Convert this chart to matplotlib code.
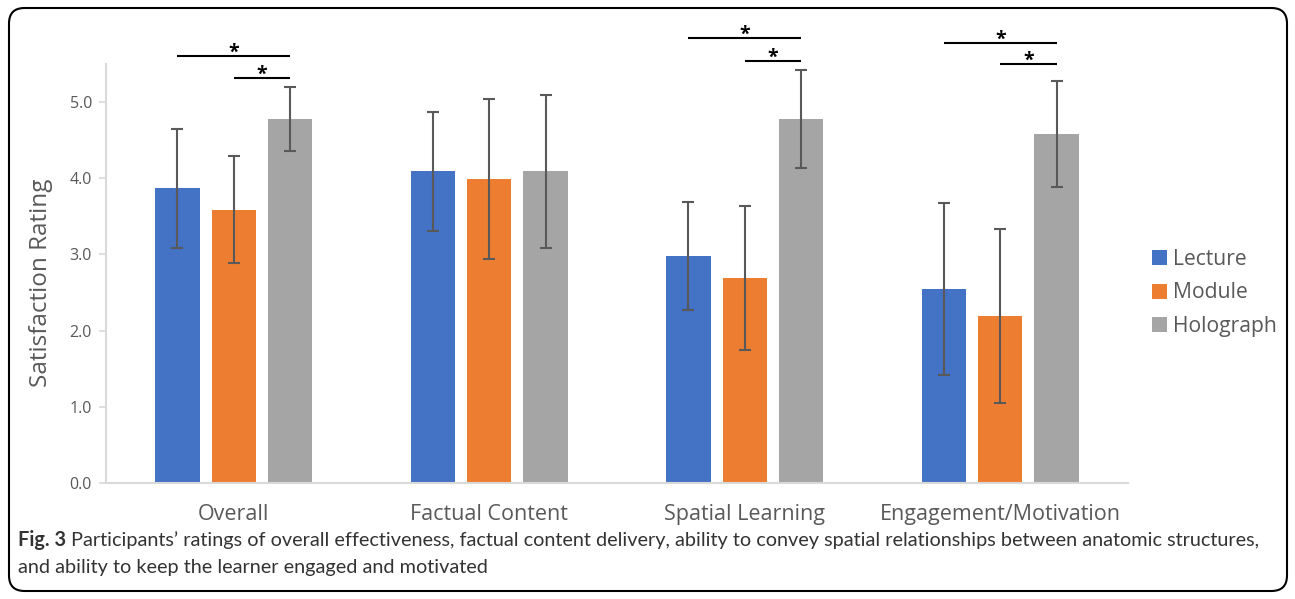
import matplotlib
matplotlib.use("Agg")
import matplotlib.pyplot as plt
import numpy as np
from matplotlib.patches import FancyBboxPatch, Patch

categories = ["Overall", "Factual Content", "Spatial Learning", "Engagement/Motivation"]
series = ["Lecture", "Module", "Holograph"]
lecture = [3.87, 4.09, 2.98, 2.55]
module = [3.59, 3.99, 2.69, 2.19]
holograph = [4.78, 4.09, 4.78, 4.58]
lecture_sd = [0.78, 0.78, 0.71, 1.13]
module_sd = [0.70, 1.05, 0.95, 1.14]
holograph_sd = [0.42, 1.00, 0.64, 0.70]
yticks = [0.0, 1.0, 2.0, 3.0, 4.0, 5.0]

# significance brackets: (category index, from series, to series, height)
sig_pairs = [
    (0, 0, 2, 5.60), (0, 1, 2, 5.31),
    (2, 0, 2, 5.84), (2, 1, 2, 5.54),
    (3, 0, 2, 5.77), (3, 1, 2, 5.50),
]

colors = ["#4472C4", "#ED7D31", "#A5A5A5"]
text_gray = "#595959"
font = "Open Sans"
W, H = 1295, 599

fig = plt.figure(figsize=(W / 100, H / 100), dpi=100)
ax = fig.add_axes([106 / W, 116 / H, (1128 - 106) / W, 419 / H])

x = np.arange(len(categories))
width = 0.174
step = 0.221
values = [lecture, module, holograph]
errs = [lecture_sd, module_sd, holograph_sd]
for i, (name, v, e, c) in enumerate(zip(series, values, errs, colors)):
    pos = x + (i - 1) * step
    ax.bar(pos, v, width, color=c, label=name, zorder=2)
    ax.errorbar(pos, v, yerr=e, fmt="none", ecolor="#595959", elinewidth=1.5,
                capsize=4.5, capthick=1.5, zorder=3)

for ci, a, b, h in sig_pairs:
    x0 = ci + (a - 1) * step
    x1 = ci + (b - 1) * step
    ax.plot([x0, x1], [h, h], color="black", lw=1.5, clip_on=False,
            solid_capstyle="butt")
    ax.text((x0 + x1) / 2, h - 0.02, "*", ha="center", va="baseline",
            fontsize=14, fontweight="bold", color="black", family=font,
            clip_on=False)

ax.set_xlim(-0.5, 3.5)
ax.set_ylim(0, 5.5)
ax.set_yticks(yticks)
ax.set_yticklabels([f"{t:.1f}" for t in yticks], fontsize=11.5, color=text_gray,
                   family=font)
ax.set_xticks(x)
ax.set_xticklabels(categories, fontsize=15.5, color=text_gray, family=font)
ax.tick_params(axis="x", length=0, pad=15)
ax.tick_params(axis="y", length=5, color="#D9D9D9", width=1.2, pad=5)
for s in ["top", "right"]:
    ax.spines[s].set_visible(False)
for s in ["left", "bottom"]:
    ax.spines[s].set_color("#D9D9D9")
    ax.spines[s].set_linewidth(1.5)
ax.set_ylabel("Satisfaction Rating", fontsize=17.5, color=text_gray, family=font)
ax.yaxis.set_label_coords(-53 / (1128 - 106), (483 - 283) / 419)

handles = [Patch(facecolor=c, edgecolor="none") for c in colors]
fig.legend(handles, series, loc="center left", bbox_to_anchor=(1133 / W, 1 - 293 / H),
           frameon=False, handlelength=0.7, handleheight=0.7,
           handletextpad=0.3, labelspacing=0.6, prop={"family": font, "size": 15.2},
           labelcolor=text_gray)

# rounded frame around the figure
frame = FancyBboxPatch((9 / W, 8 / H), (1287 - 9) / W, (591 - 8) / H,
                       boxstyle="round,pad=0,rounding_size=0.012",
                       transform=fig.transFigure, fill=False, edgecolor="black",
                       linewidth=1.5, mutation_aspect=W / H)
fig.patches.append(frame)

# caption
cap_color = "#333333"
cap_font = "Lato"
cap_size = 14.3
t1 = fig.text(18 / W, 1 - 540 / H, "Fig. 3", fontsize=cap_size, fontweight="bold",
              color=cap_color, family=cap_font, va="center")
fig.canvas.draw()
bb = t1.get_window_extent()
fig.text((bb.x1 + 5) / W, 1 - 540 / H,
         "Participants\u2019 ratings of overall effectiveness, factual content delivery, "
         "ability to convey spatial relationships between anatomic structures,",
         fontsize=cap_size, color=cap_color, family=cap_font, va="center")
fig.text(18 / W, 1 - 568 / H, "and ability to keep the learner engaged and motivated",
         fontsize=cap_size, color=cap_color, family=cap_font, va="center")

fig.savefig("out.png", dpi=100)
